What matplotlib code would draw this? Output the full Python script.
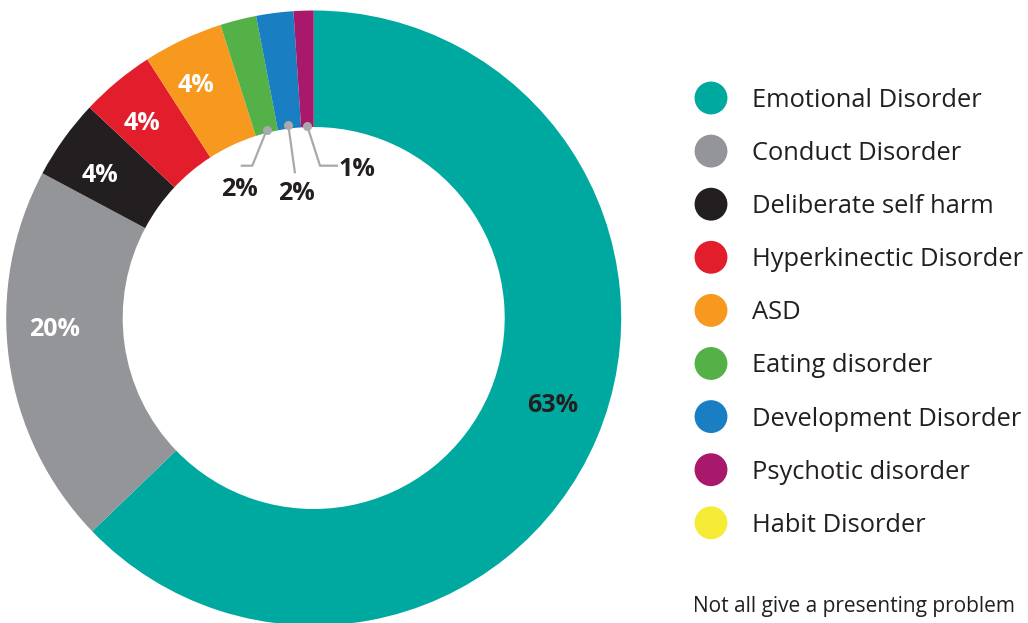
import matplotlib
matplotlib.use("Agg")
import matplotlib.pyplot as plt

plt.rcParams['font.family'] = ['Open Sans', 'DejaVu Sans']

# data (share of referrals, %)
categories = ["Emotional Disorder", "Conduct Disorder", "Deliberate self harm",
              "Hyperkinectic Disorder", "ASD", "Eating disorder",
              "Development Disorder", "Psychotic disorder", "Habit Disorder"]
shares = [62.8, 20.0, 4.2, 3.9, 4.2, 1.9, 1.95, 1.05, 0.0]
labels = ["63%", "20%", "4%", "4%", "4%", "2%", "2%", "1%", ""]
colors = ["#00A99F", "#939598", "#231F20", "#E21E2D", "#F7991F",
          "#53B147", "#1A7EC2", "#A8196B", "#F6EB35"]
note = "Not all give a presenting problem"

W, H = 1028, 623
fig = plt.figure(figsize=(W / 100, H / 100), dpi=100)
ax = fig.add_axes([0, 0, 1, 1])

def P(x, y):
    # pixel position (from top-left) -> axes data coords
    return x, H - y

cx, cy = P(313.7, 318)
R = 307.5
ring = 116.5
wedges, _ = ax.pie(shares, colors=colors, startangle=90, counterclock=False,
                   radius=R, center=(cx, cy),
                   wedgeprops=dict(width=ring, linewidth=0, antialiased=True))
ax.set_xlim(0, W)
ax.set_ylim(0, H)
ax.set_aspect('auto')
ax.axis('off')

# labels inside the ring
inside = {0: P(553, 405), 1: P(55, 329), 2: P(100, 175), 3: P(142, 123), 4: P(196, 86)}
for i, (x, y) in inside.items():
    col = "#231F20" if i == 0 else "white"
    ax.text(x, y, labels[i], ha='center', va='center', fontsize=18,
            fontweight='bold', color=col)

# small slices: leader lines from the inner edge
leaders = {
    5: ([P(266.7, 130), P(252.3, 165.7), P(240.7, 165.7)], P(239, 189)),
    6: ([P(288.3, 125), P(295, 173.3)], P(296, 193)),
    7: ([P(307.3, 126), P(320, 165.7), P(338, 165.7)], P(357, 169)),
}
for i, (pts, tpos) in leaders.items():
    xs = [p[0] for p in pts]
    ys = [p[1] for p in pts]
    ax.plot(xs, ys, color="#A7A9AC", lw=1.6, solid_capstyle='butt')
    ax.plot(xs[0], ys[0], 'o', color="#A7A9AC", ms=6.5, mec='none')
    ax.text(tpos[0], tpos[1], labels[i], ha='center', va='center', fontsize=18,
            fontweight='bold', color="#231F20")

# legend
y0, dy = 98, 53.1
for k, (name, c) in enumerate(zip(categories, colors)):
    x, y = P(711, y0 + k * dy)
    ax.scatter([x], [y], s=560, color=c, edgecolors='none')
    ax.text(752, y - 9, name, ha='left', va='baseline', fontsize=18.4, color="#231F20")

ax.text(693, H - 612, note, ha='left', va='baseline', fontsize=15, color="#231F20")

fig.savefig("out.png", dpi=100)
